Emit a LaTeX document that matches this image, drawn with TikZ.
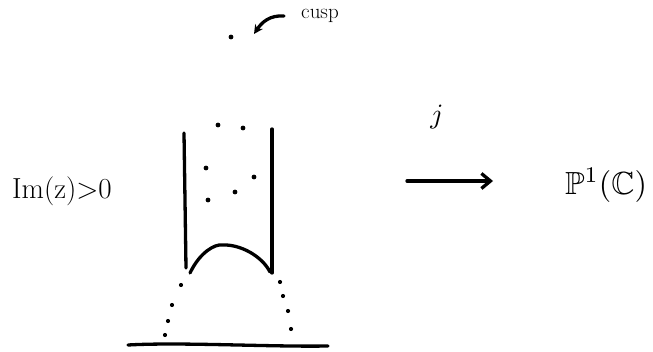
\documentclass[tikz,border=0pt]{standalone}
\usepackage{fontspec}
\usepackage{amssymb}
\usepackage{graphicx}
\usetikzlibrary{arrows.meta}
\begin{document}
\begin{tikzpicture}[x=1pt,y=-1pt,
  pen/.style={line width=3.3pt,line cap=round,line join=round},
  pt/.style={circle,fill=black,inner sep=0pt,minimum size=4.8pt},
  lbl/.style={inner sep=0pt,anchor=center}]
\useasboundingbox (0,0) rectangle (653,352);
% cusp
\node[pt] (cusp) at (231,37) {};
\node[lbl,font=\fontsize{21}{24}\selectfont] (cusptxt) at (320,16) {cusp};
\coordinate (ca) at (284,16);
\coordinate (cb) at (254,34);
\draw[pen,-{Stealth[length=9pt,width=9pt]}] (ca) .. controls (270,15) and (262,22) .. (cb);
% strip
\coordinate (l1) at (184,133);
\coordinate (l2) at (186,268);
\coordinate (r1) at (272,129);
\coordinate (r2) at (272,273);
\draw[pen] (l1) -- (l2);
\draw[pen] (r1) -- (r2);
\coordinate (a1) at (190,273);
\coordinate (a2) at (270,272);
\draw[pen] (a1) .. controls (200,252) and (215,244) .. (222,245) .. controls (240,244) and (262,256) .. (a2);
% points inside
\foreach \n/\p in {d1/{(218,125)},d2/{(243,128)},d3/{(206,168)},d4/{(254,177)},d5/{(235,192)},d6/{(208,200)}}
  \node[pt] (\n) at \p {};
% dotted continuation
\foreach \n/\p in {e1/{(181,285)},e2/{(172,305)},e3/{(168,321)},e4/{(165,335)},f1/{(280,282)},f2/{(283,296)},f3/{(288,311)},f4/{(291,329)}}
  \node[pt,minimum size=4.2pt] (\n) at \p {};
% real line
\coordinate (b1) at (128,345);
\coordinate (b2) at (328,346);
\draw[pen] (b1) .. controls (180,342) and (270,347) .. (b2);
% labels
\node[lbl,font=\fontsize{29}{34}\selectfont] (im) at (62,191) {Im(z)>0};
\node[lbl] (j) at (437,117) {\scalebox{2.8}{$j$}};
\coordinate (m1) at (407,181);
\coordinate (m2) at (493,181);
\draw[pen,-{Straight Barb[length=9pt,width=15pt]}] (m1) -- (m2);
\node[lbl] (p1) at (606,185) {\scalebox{3.2}{$\mathbb{P}^1(\mathbb{C})$}};
\end{tikzpicture}
\end{document}
